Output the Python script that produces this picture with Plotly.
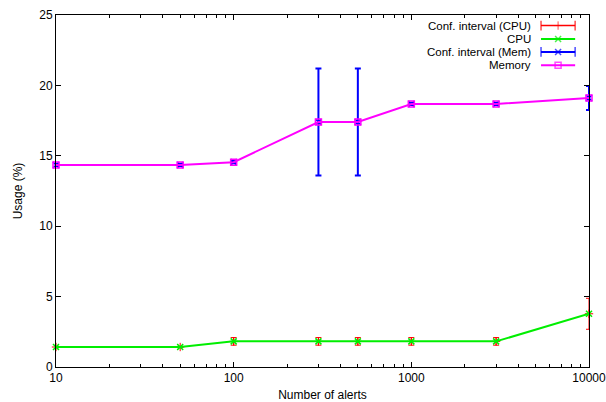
import plotly.graph_objects as go

# ---- data ----
alerts = [10, 50, 100, 300, 500, 1000, 3000, 10000]
cpu = [1.42, 1.42, 1.82, 1.82, 1.82, 1.82, 1.82, 3.78]
cpu_err = [0.05, 0.05, 0.27, 0.27, 0.27, 0.27, 0.27, 1.1]
mem = [14.35, 14.35, 14.55, 17.4, 17.4, 18.68, 18.68, 19.1]
mem_err = [0.08, 0.08, 0.08, 3.8, 3.8, 0.08, 0.08, 0.85]
y_ticks = [0, 5, 10, 15, 20, 25]
x_ticks = [10, 100, 1000, 10000]
x_ticktext = ["10", "100", "1000", "10000"]
x_minor = [m * d for d in (10, 100, 1000) for m in range(2, 10)]

legend_names = ["Conf. interval (CPU)", "CPU", "Conf. interval (Mem)", "Memory"]

RED, GREEN, BLUE, MAG = "#ff0000", "#00ee00", "#0000ff", "#ff00ff"
FONT = "Liberation Sans, Arial, sans-serif"

fig = go.Figure()

# CPU confidence interval
fig.add_trace(go.Scatter(
    x=alerts, y=cpu, mode="markers", cliponaxis=False, showlegend=False,
    marker=dict(symbol="cross-thin", size=6, line=dict(color=RED, width=1)),
    error_y=dict(type="data", array=cpu_err, color=RED, thickness=1, width=3),
))
# CPU
fig.add_trace(go.Scatter(
    x=alerts, y=cpu, mode="lines+markers", cliponaxis=False, showlegend=False,
    line=dict(color=GREEN, width=2),
    marker=dict(symbol="x-thin", size=6, line=dict(color=GREEN, width=1.5)),
))
# Mem confidence interval
fig.add_trace(go.Scatter(
    x=alerts, y=mem, mode="markers", cliponaxis=False, showlegend=False,
    marker=dict(symbol="x-thin", size=6, line=dict(color=BLUE, width=1.5)),
    error_y=dict(type="data", array=mem_err, color=BLUE, thickness=2, width=3),
))
# Memory
fig.add_trace(go.Scatter(
    x=alerts, y=mem, mode="lines+markers", cliponaxis=False, showlegend=False,
    line=dict(color=MAG, width=2),
    marker=dict(symbol="square-open", size=6, color=MAG, line=dict(color=MAG, width=1.5)),
))

# ---- manual gnuplot-style key (text left, sample right) on an overlay axis ----
key_rows = [0.970, 0.932, 0.895, 0.857]
kx0, kxm, kx1 = 0.91, 0.942, 0.974
key_styles = [
    (RED, "cross-thin", 1),
    (GREEN, "x-thin", 1.5),
    (BLUE, "x-thin", 1.5),
    (MAG, "square-open", 1.5),
]
for i, (name, (col, sym, mw)) in enumerate(zip(legend_names, key_styles)):
    caps = i in (0, 2)
    fig.add_trace(go.Scatter(
        x=[kx0, kxm, kx1], y=[key_rows[i]] * 3, xaxis="x2", yaxis="y2",
        mode="lines+markers", showlegend=False, hoverinfo="skip",
        line=dict(color=col, width=2 if i != 0 else 1.5),
        marker=dict(
            symbol=["line-ns" if caps else "circle", sym, "line-ns" if caps else "circle"],
            size=[7 if caps else 0, 6, 7 if caps else 0],
            color=col, line=dict(color=col, width=[1.5 if caps else 0, mw, 1.5 if caps else 0]),
        ),
    ))
    fig.add_annotation(
        x=0.895, y=key_rows[i], xref="paper", yref="paper", text=name,
        showarrow=False, xanchor="right", yanchor="middle",
        font=dict(family=FONT, size=11.5, color="#000"),
    )

fig.update_layout(
    width=606, height=402,
    margin=dict(l=56, r=17, t=15, b=35),
    paper_bgcolor="white", plot_bgcolor="white",
    font=dict(family=FONT, size=12, color="#000"),
    xaxis=dict(
        type="log", range=[1, 4.00001], tickvals=x_ticks, ticktext=x_ticktext,
        ticks="inside", ticklen=5, tickcolor="#000", mirror="allticks",
        showline=True, linecolor="#000", linewidth=1, showgrid=False, zeroline=False,
        minor=dict(tickvals=x_minor, ticks="inside", ticklen=3, tickcolor="#000", showgrid=False),
        title=dict(text="Number of alerts", font=dict(size=12), standoff=6),
        tickfont=dict(size=12), automargin=False, ticklabeloverflow="allow",
    ),
    yaxis=dict(
        range=[0, 25], tickvals=y_ticks,
        ticks="inside", ticklen=5, tickcolor="#000", mirror="allticks",
        showline=True, linecolor="#000", linewidth=1, showgrid=False, zeroline=False,
        title=dict(text="Usage (%)", font=dict(size=12), standoff=14),
        tickfont=dict(size=12), automargin=False,
    ),
    xaxis2=dict(overlaying="x", range=[0, 1], visible=False, fixedrange=True),
    yaxis2=dict(overlaying="y", range=[0, 1], visible=False, fixedrange=True),
)

fig.write_html("out.html")
